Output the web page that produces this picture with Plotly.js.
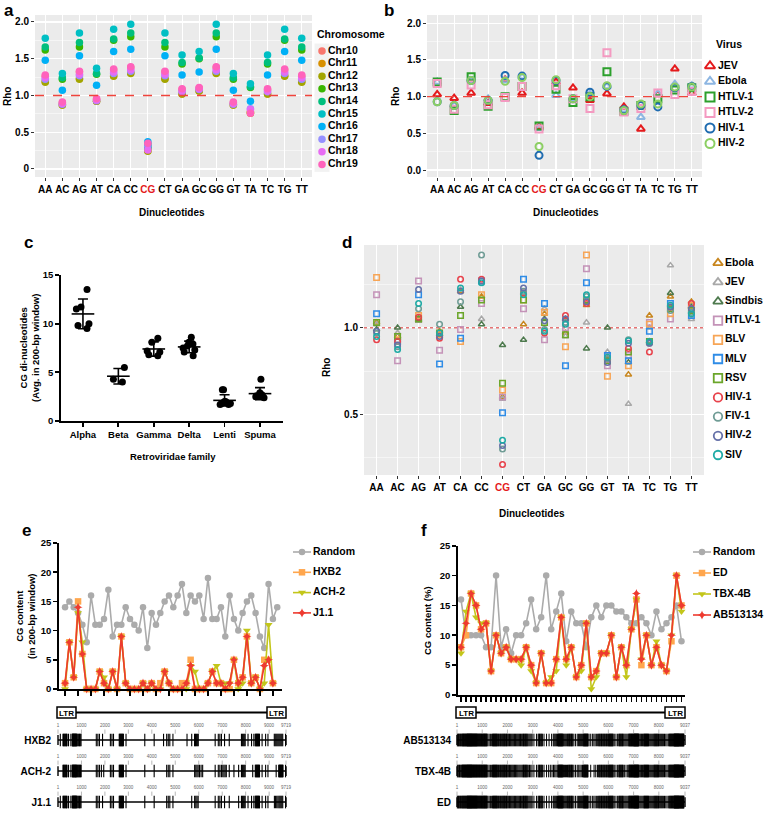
<!DOCTYPE html>
<html><head><meta charset="utf-8">
<script src="https://cdn.plot.ly/plotly-3.0.1.min.js"></script>
<style>html,body{margin:0;padding:0;background:#fff}#chart{width:784px;height:814px}</style>
</head><body><div id="chart"></div>
<script>
// ---------------- DATA ----------------
const dinucs = ['AA','AC','AG','AT','CA','CC','CG','CT','GA','GC','GG','GT','TA','TC','TG','TT'];

// Panel a : Rho per chromosome
const chromosomes = ['Chr10','Chr11','Chr12','Chr13','Chr14','Chr15','Chr16','Chr17','Chr18','Chr19'];
const chromColors = ['#F8766D','#D89000','#A3A500','#39B600','#00BF7D','#00BFC4','#00B0F6','#9590FF','#E76BF3','#FF62BC'];
const rhoChr10 = [1.26,0.90,1.32,0.95,1.35,1.38,0.34,1.32,1.08,1.10,1.38,0.90,0.78,1.08,1.35,1.26];
const rhoChr11 = [1.19,0.87,1.23,0.92,1.27,1.31,0.25,1.23,1.02,1.06,1.31,0.87,0.76,1.02,1.27,1.19];
const rhoChr12 = [1.18,0.87,1.22,0.92,1.26,1.30,0.24,1.22,1.02,1.06,1.30,0.87,0.77,1.02,1.26,1.18];
const rhoChr13 = [1.62,1.22,1.66,1.29,1.75,1.80,0.29,1.66,1.43,1.50,1.80,1.22,1.11,1.43,1.75,1.62];
const rhoChr14 = [1.66,1.24,1.72,1.30,1.77,1.85,0.30,1.72,1.45,1.51,1.85,1.24,1.12,1.45,1.77,1.66];
const rhoChr15 = [1.78,1.30,1.85,1.37,1.90,1.97,0.33,1.85,1.55,1.60,1.97,1.30,1.16,1.55,1.90,1.78];
const rhoChr16 = [1.48,1.07,1.54,1.14,1.60,1.63,0.37,1.54,1.28,1.32,1.63,1.07,0.92,1.28,1.60,1.48];
const rhoChr17 = [1.22,0.88,1.27,0.93,1.30,1.33,0.31,1.27,1.05,1.08,1.33,0.88,0.82,1.05,1.30,1.22];
const rhoChr18 = [1.24,0.89,1.29,0.94,1.32,1.35,0.26,1.29,1.06,1.09,1.35,0.89,0.81,1.06,1.32,1.24];
const rhoChr19 = [1.28,0.91,1.33,0.96,1.36,1.39,0.35,1.33,1.09,1.11,1.39,0.91,0.76,1.09,1.36,1.28];

// Panel b : Rho per virus
const virusB = ['JEV','Ebola','HTLV-1','HTLV-2','HIV-1','HIV-2'];
const virusBColors = ['#E41A1C','#8DB6E2','#2CA02C','#F49AC1','#1F6CB0','#8CCF63'];
const virusBSymbols = ['triangle-up-open','triangle-up-open','square-open','square-open','circle-open','circle-open'];
const rhoB_JEV   = [1.03,0.98,1.05,0.91,1.23,1.05,0.59,1.20,1.12,0.95,1.04,0.86,0.56,1.03,1.38,1.05];
const rhoB_Ebola = [1.20,0.88,1.22,0.97,1.22,1.27,0.57,1.02,0.97,1.03,1.14,0.82,0.72,1.04,1.17,1.15];
const rhoB_HTLV1 = [1.20,0.81,1.27,0.87,1.00,1.14,0.60,1.10,0.92,1.00,1.34,0.80,0.88,0.97,1.09,1.12];
const rhoB_HTLV2 = [1.18,0.83,1.16,0.89,0.99,1.14,0.56,1.15,0.97,0.84,1.60,0.79,0.84,1.05,1.03,1.07];
const rhoB_HIV1  = [0.93,0.88,1.22,0.95,1.29,1.28,0.20,1.22,0.97,1.06,1.14,0.82,0.88,0.86,1.12,1.14];
const rhoB_HIV2  = [0.93,0.88,1.22,0.95,1.21,1.26,0.32,1.23,0.97,1.00,1.15,0.81,0.90,0.90,1.13,1.13];

// Panel c : CG di-nucleotides per Retroviridae genus
const families = ['Alpha','Beta','Gamma','Delta','Lenti','Spuma'];
const cgAlpha = [13.5,11.7,11.5,10.0,9.5,9.8];
const cgBeta  = [5.5,4.0,4.3];
const cgGamma = [8.5,8.1,7.2,7.1,6.7,6.8];
const cgDelta = [8.6,8.1,7.9,7.7,7.5,7.3,7.1,6.7];
const cgLenti = [3.2,3.2,2.0,1.9,1.8,1.8,1.7,1.7,1.9,2.0];
const cgSpuma = [4.3,2.9,2.7,2.6,2.5,2.4,2.5,2.6];

// Panel d : Rho per virus
const virusD = ['Ebola','JEV','Sindbis','HTLV-1','BLV','MLV','RSV','HIV-1','FIV-1','HIV-2','SIV'];
const virusDColors = ['#C8861E','#A8A8A8','#4E7A4E','#C493B8','#F7A556','#2F8CE6','#6BA62A','#E8424B','#6F9C95','#6470A8','#1EAAA5'];
const virusDSymbols = ['triangle-up-open','triangle-up-open','triangle-up-open','square-open','square-open','square-open','square-open','circle-open','circle-open','circle-open','circle-open'];
const rhoD_Ebola   = [1.03,0.95,1.04,0.98,1.21,1.18,0.60,1.02,1.08,0.97,1.13,0.82,0.73,1.07,1.18,1.15];
const rhoD_JEV     = [1.02,0.97,1.04,0.95,1.22,1.05,0.59,1.20,1.11,0.95,1.03,0.86,0.56,1.00,1.36,1.05];
const rhoD_Sindbis = [0.99,1.00,1.05,0.96,1.12,1.02,0.90,0.93,1.05,1.05,0.88,1.00,0.80,0.92,1.20,1.12];
const rhoD_HTLV1   = [1.19,0.81,1.27,0.87,0.99,1.14,0.60,1.11,0.93,1.00,1.34,0.78,0.84,1.03,1.05,1.13];
const rhoD_BLV     = [1.29,0.93,1.07,0.96,0.92,1.19,0.64,1.16,1.09,0.89,1.42,0.72,0.78,1.02,1.08,1.13];
const rhoD_MLV     = [1.08,0.92,1.19,0.79,0.94,1.27,0.51,1.28,1.14,0.78,1.26,0.84,0.81,0.98,1.14,1.07];
const rhoD_RSV     = [1.03,0.95,1.05,0.97,1.07,1.16,0.68,1.16,1.03,0.96,1.16,0.81,0.86,0.92,1.11,1.10];
const rhoD_HIV1    = [0.93,0.92,1.06,0.94,1.28,1.28,0.21,1.20,0.97,1.07,1.14,0.82,0.88,0.86,1.12,1.14];
const rhoD_FIV1    = [0.97,0.89,1.11,1.02,1.15,1.42,0.30,1.21,0.99,1.03,1.18,0.82,0.93,0.91,1.10,1.09];
const rhoD_HIV2    = [0.98,0.90,1.22,0.95,1.21,1.27,0.32,1.23,1.04,1.05,1.15,0.80,0.91,0.91,1.12,1.11];
const rhoD_SIV     = [0.95,0.875,1.14,0.97,1.23,1.26,0.35,1.19,0.98,1.02,1.19,0.83,0.925,0.92,1.13,1.08];

// Panel e : CG content per 200-bp window
const seriesE = ['Random','HXB2','ACH-2','J1.1'];
const cgE_Random = [14,15,14,13,11,8,16,11,11,12,17,9,11,11,14,12,11,10,14,7,13,11,13,15,16,14,16,18,13,16,15,16,12,19,12,12,14,9,16,12,10,13,15,16,13,9,7,18,12,14];
const cgE_HXB2   = [1,8,2,15,6,0,0,0,3,1,0,3,0,9,1,0,0,0,1,0,1,0,1,3,1,0,0,1,1,5,0,0,0,1,3,1,1,0,0,5,1,2,9,1,2,0,5,5,1];
const cgE_ACH2   = [0,8,2,13,8,0,0,0,3,2,0,3,0,9,1,0,0,0,1,0,1,0,0,3,1,0,0,0,0,4,3,0,0,1,3,4,1,1,1,5,0,1,10,1,2,0,1,11,1];
const cgE_J11    = [1,8,2,14,6,0,0,0,3,1,0,3,0,9,1,0,0,0,1,0,1,0,0,3,1,0,0,0,1,4,0,0,0,1,3,1,1,0,1,5,1,2,9,1,2,0,4,5,1];
const eMapScale  = [1,1000,2000,3000,4000,5000,6000,7000,8000,9000,9719];

// Panel f : CG content (%)
const seriesF = ['Random','ED','TBX-4B','AB513134'];
const cgF_Random = [16,10,10,10,10,8,8,20,8,11,7,10,10,12,16,11,13,20,11,14,17,9,14,12,12,8,13,15,13,15,15,14,14,13,12,12,13,12,10,14,11,12,13,15,9];
const cgF_ED     = [8,10,17,15,11,12,4,10,7,8,6,6,6,8,5,2,7,2,2,6,13,6,8,3,5,12,3,4,7,7,10,3,8,5,11,16,5,10,5,8,5,4,9,20,15];
const cgF_TBX4B  = [7,14,17,13,12,12,4,10,7,8,6,6,5,8,4,2,7,2,3,4,13,5,8,3,4,12,1,3,7,7,10,3,8,3,11,16,6,10,5,9,5,4,10,20,14];
const cgF_AB     = [8,12,17,15,11,12,4,10,7,8,6,6,6,8,5,2,7,2,2,6,13,6,8,3,5,12,3,4,7,7,10,3,8,5,11,17,6,10,5,8,5,4,10,20,15];
const fMapScale  = [1,1000,2000,3000,4000,5000,6000,7000,8000,9037];
const windowBp = 200;

// ---------------- HELPERS ----------------
const W = 784, H = 814;
const FONT = 'Liberation Sans, Arial, Helvetica, sans-serif';
const bold = (s, c) => ({family: FONT, size: s, color: c || '#000', weight: 'bold'});
const xd = (a, b) => [a / W, b / W];
const yd = (top, bot) => [1 - bot / H, 1 - top / H];
const PX = x => x / W, PY = y => 1 - y / H;
const idx = arr => arr.map((_, i) => i);
const dinucText = dinucs.map(d => d === 'CG' ? '<span style="color:#E41A1C">CG</span>' : d);
const GG_XRANGE = [-0.6, 15.6];

const traces = [];
const shapes = [];
const annotations = [];

// ggplot-style gray panel + reference line at Rho = 1
function ggPanel(xa, ya) {
  shapes.push({type: 'rect', xref: xa + ' domain', yref: ya + ' domain', x0: 0, x1: 1, y0: 0, y1: 1,
    fillcolor: '#EBEBEB', line: {width: 0}, layer: 'below'});
}
function refLine(xa, ya, hline, dashStyle, hcol) {
  traces.push({type: 'scatter', mode: 'lines', xaxis: xa, yaxis: ya, x: GG_XRANGE, y: [hline, hline],
    line: {color: hcol, width: 1.3, dash: dashStyle}, hoverinfo: 'skip'});
}
function ggX(domain) {
  return {domain, range: GG_XRANGE, tickvals: idx(dinucs), ticktext: dinucText, tickfont: bold(10), tickangle: 0,
    ticks: 'outside', ticklen: 3, tickcolor: '#333', showgrid: true, gridcolor: '#fff', gridwidth: 1.1,
    zeroline: false, showline: false, fixedrange: true};
}
function ggY(domain, range, vals, texts, minors) {
  return {domain, range, tickvals: vals, ticktext: texts, tickfont: bold(10),
    ticks: 'outside', ticklen: 3, tickcolor: '#333', showgrid: true, gridcolor: '#fff', gridwidth: 1.1,
    minor: {tickvals: minors, showgrid: true, gridcolor: '#fff', gridwidth: 0.5, ticks: ''},
    zeroline: false, showline: false, fixedrange: true};
}
// manual legends on the full-page pixel axis (x9/y9)
function legendItems(names, colors, symbols, x0, y0, dy, size, lw, textX) {
  const ys = names.map((_, i) => y0 + i * dy);
  traces.push({type: 'scatter', mode: 'markers', xaxis: 'x9', yaxis: 'y9', x: names.map(() => x0), y: ys,
    marker: {symbol: symbols, color: colors, size: size, line: {color: colors, width: lw}}, hoverinfo: 'skip', cliponaxis: false});
  traces.push({type: 'scatter', mode: 'text', xaxis: 'x9', yaxis: 'y9', x: names.map(() => textX), y: ys,
    text: names, textposition: 'middle right', textfont: bold(10.5), hoverinfo: 'skip', cliponaxis: false});
}
function lineLegend(names, colors, symbols, sizes, x0, y0, dy, textX) {
  names.forEach((n, i) => {
    const y = y0 + i * dy;
    traces.push({type: 'scatter', mode: 'lines', xaxis: 'x9', yaxis: 'y9', x: [x0 - 9, x0 + 9], y: [y, y],
      line: {color: colors[i], width: 1.6}, hoverinfo: 'skip', cliponaxis: false});
    traces.push({type: 'scatter', mode: 'markers', xaxis: 'x9', yaxis: 'y9', x: [x0], y: [y],
      marker: {symbol: symbols[i], color: colors[i], size: sizes[i]}, hoverinfo: 'skip', cliponaxis: false});
  });
  traces.push({type: 'scatter', mode: 'text', xaxis: 'x9', yaxis: 'y9', x: names.map(() => textX),
    y: names.map((_, i) => y0 + i * dy), text: names, textposition: 'middle right', textfont: bold(10.5),
    hoverinfo: 'skip', cliponaxis: false});
}
function label(text, x, y, size, opts) {
  annotations.push(Object.assign({text, x: PX(x), y: PY(y), xref: 'paper', yref: 'paper', showarrow: false,
    font: bold(size), xanchor: 'center', yanchor: 'middle'}, opts || {}));
}

// ---------------- PANEL a ----------------
ggPanel('x', 'y');
const chrSeries = [rhoChr10, rhoChr11, rhoChr12, rhoChr13, rhoChr14, rhoChr15, rhoChr16, rhoChr17, rhoChr18, rhoChr19];
chrSeries.forEach((s, k) => traces.push({type: 'scatter', mode: 'markers', xaxis: 'x', yaxis: 'y', x: idx(dinucs), y: s,
  name: chromosomes[k], marker: {color: chromColors[k], size: 7.5}, cliponaxis: false}));
refLine('x', 'y', 1, 'dash', '#F0443C');

// ---------------- PANEL b ----------------
ggPanel('x2', 'y2');
const bSeries = [rhoB_JEV, rhoB_Ebola, rhoB_HTLV1, rhoB_HTLV2, rhoB_HIV1, rhoB_HIV2];
bSeries.forEach((s, k) => traces.push({type: 'scatter', mode: 'markers', xaxis: 'x2', yaxis: 'y2', x: idx(dinucs), y: s,
  name: virusB[k], marker: {symbol: virusBSymbols[k], color: virusBColors[k], size: 7, line: {color: virusBColors[k], width: 2}}, cliponaxis: false}));
refLine('x2', 'y2', 1, 'dash', '#F0443C');

// ---------------- PANEL c ----------------
const cSeries = [cgAlpha, cgBeta, cgGamma, cgDelta, cgLenti, cgSpuma];
const cMeans = cSeries.map(a => a.reduce((s, v) => s + v, 0) / a.length);
const cSDs = cSeries.map((a, i) => Math.sqrt(a.reduce((s, v) => s + (v - cMeans[i]) ** 2, 0) / (a.length - 1)));
cSeries.forEach((s, k) => traces.push({type: 'box', xaxis: 'x3', yaxis: 'y3', x0: k, y: s, name: families[k],
  boxpoints: 'all', jitter: 0.8, pointpos: 0, width: 0.55, marker: {color: '#000', size: 7},
  line: {color: 'rgba(0,0,0,0)', width: 0}, fillcolor: 'rgba(0,0,0,0)', hoverinfo: 'skip'}));
const meanX = [], meanY = [];
cMeans.forEach((m, k) => { meanX.push(k - 0.32, k + 0.32, null); meanY.push(m, m, null); });
traces.push({type: 'scatter', mode: 'lines', xaxis: 'x3', yaxis: 'y3', x: meanX, y: meanY, line: {color: '#000', width: 1.6}, hoverinfo: 'skip'});
traces.push({type: 'scatter', mode: 'markers', xaxis: 'x3', yaxis: 'y3', x: idx(families), y: cMeans,
  marker: {size: 1, color: 'rgba(0,0,0,0)'}, error_y: {type: 'data', array: cSDs, visible: true, color: '#000', thickness: 1.6, width: 5}, hoverinfo: 'skip'});

// ---------------- PANEL d ----------------
ggPanel('x4', 'y4');
refLine('x4', 'y4', 1, 'dot', '#E57373');
const dSeries = [rhoD_Ebola, rhoD_JEV, rhoD_Sindbis, rhoD_HTLV1, rhoD_BLV, rhoD_MLV, rhoD_RSV, rhoD_HIV1, rhoD_FIV1, rhoD_HIV2, rhoD_SIV];
dSeries.forEach((s, k) => traces.push({type: 'scatter', mode: 'markers', xaxis: 'x4', yaxis: 'y4', x: idx(dinucs), y: s,
  name: virusD[k], marker: {symbol: virusDSymbols[k], color: virusDColors[k], size: 5.5, line: {color: virusDColors[k], width: 1.5}}, cliponaxis: false}));

// ---------------- PANEL e ----------------
const lineColorsE = ['#ABABAB', '#FFA64D', '#C3C61A', '#EE3A2F'];
const symbolsE = ['circle', 'square', 'triangle-down', 'star-diamond'];
const sizesE = [6.5, 6.5, 7, 6.5];
[cgE_Random, cgE_HXB2, cgE_ACH2, cgE_J11].forEach((s, k) => traces.push({type: 'scatter', mode: 'lines+markers',
  xaxis: 'x5', yaxis: 'y5', x: idx(s), y: s, name: seriesE[k], line: {color: lineColorsE[k], width: 1.6},
  marker: {symbol: symbolsE[k], color: lineColorsE[k], size: sizesE[k]}, cliponaxis: false}));

// ---------------- PANEL f ----------------
const lineColorsF = ['#ABABAB', '#FFA64D', '#C3C61A', '#EE3A2F'];
[cgF_Random, cgF_ED, cgF_TBX4B, cgF_AB].forEach((s, k) => traces.push({type: 'scatter', mode: 'lines+markers',
  xaxis: 'x6', yaxis: 'y6', x: idx(s), y: s, name: seriesF[k], line: {color: lineColorsF[k], width: 1.6},
  marker: {symbol: symbolsE[k], color: lineColorsF[k], size: sizesE[k]}, cliponaxis: false}));

// ---------------- CpG maps (derived from per-window counts) ----------------
function cpgPositions(counts) {
  const xs = [];
  counts.forEach((n, i) => { for (let k = 0; k < n; k++) xs.push(i * windowBp + (k + 0.5) * windowBp / n); });
  return xs;
}
function drawMaps(xa, ya, rowsCounts, scale, markW) {
  const len = scale[scale.length - 1];
  rowsCounts.forEach((counts, r) => {
    traces.push({type: 'scatter', mode: 'lines', xaxis: xa, yaxis: ya, x: [1, len], y: [r, r], line: {color: '#000', width: 1.6}, hoverinfo: 'skip', cliponaxis: false});
    traces.push({type: 'scatter', mode: 'markers', xaxis: xa, yaxis: ya, x: [1, len], y: [r, r],
      marker: {symbol: 'line-ns', size: 7, line: {color: '#000', width: 1.4}}, hoverinfo: 'skip', cliponaxis: false});
    const pos = cpgPositions(counts).filter(p => p <= len);
    traces.push({type: 'scatter', mode: 'markers', xaxis: xa, yaxis: ya, x: pos, y: pos.map(() => r),
      marker: {symbol: 'line-ns', size: 9, line: {color: '#000', width: markW}}, hoverinfo: 'skip', cliponaxis: false});
    traces.push({type: 'scatter', mode: 'markers', xaxis: xa, yaxis: ya, x: scale, y: scale.map(() => r - 0.27),
      marker: {symbol: 'line-ns', size: 3, line: {color: '#888', width: 0.6}}, hoverinfo: 'skip', cliponaxis: false});
    traces.push({type: 'scatter', mode: 'text', xaxis: xa, yaxis: ya, x: scale, y: scale.map(() => r - 0.45),
      text: scale.map(String), textfont: {family: FONT, size: 4.5, color: '#666'}, hoverinfo: 'skip', cliponaxis: false});
  });
}
drawMaps('x7', 'y7', [cgE_HXB2, cgE_ACH2, cgE_J11], eMapScale, 1.1);
drawMaps('x8', 'y8', [cgF_AB, cgF_TBX4B, cgF_ED], fMapScale, 1.0);

// LTR schematics
function ltr(x0, x1, xr0, xr1, ytop, ybot) {
  const ym = (ytop + ybot) / 2;
  shapes.push({type: 'line', xref: 'paper', yref: 'paper', x0: PX(x1), x1: PX(xr0), y0: PY(ym), y1: PY(ym), line: {color: '#000', width: 2}});
  [[x0, x1], [xr0, xr1]].forEach(([a, b]) => {
    shapes.push({type: 'rect', xref: 'paper', yref: 'paper', x0: PX(a), x1: PX(b), y0: PY(ybot), y1: PY(ytop),
      line: {color: '#000', width: 1.5}, fillcolor: '#fff'});
    label('LTR', (a + b) / 2, ym + 0.5, 8);
  });
}
ltr(57, 76, 267, 286, 707, 718);
ltr(456, 476, 665, 685, 707, 718);

// ---------------- LEGENDS ----------------
traces.push({type: 'scatter', mode: 'markers', xaxis: 'x9', yaxis: 'y9', x: chromosomes.map(() => 322),
  y: chromosomes.map((_, i) => 51 + i * 12.6), marker: {symbol: 'square', color: '#F2F2F2', size: 15}, hoverinfo: 'skip'});
legendItems(chromosomes, chromColors, chromosomes.map(() => 'circle'), 322, 51, 12.6, 7.5, 0, 328);
label('Chromosome', 315, 34, 10.5, {xanchor: 'left'});
legendItems(virusB, virusBColors, virusBSymbols, 710, 66, 15.5, 9, 2, 718);
label('Virus', 714, 44, 10.5, {xanchor: 'left'});
legendItems(virusD, virusDColors, virusDSymbols, 718, 263, 19.2, 8.5, 1.8, 725);
lineLegend(seriesE, lineColorsE, symbolsE, sizesE, 302, 552, 20.3, 313);
lineLegend(seriesF, lineColorsF, symbolsE, sizesE, 702, 552, 21, 713);

// ---------------- TEXT ----------------
label('a', 9, 11, 17); label('b', 389, 11, 17); label('c', 28, 242, 17);
label('d', 347, 242, 17); label('e', 26, 530, 17); label('f', 424, 530, 17);
label('Rho', 8, 96, 10, {textangle: -90});
label('Dinucleotides', 172, 212, 10);
label('Rho', 395, 97, 10, {textangle: -90});
label('Dinucleotides', 566, 212, 10);
label('CG di-nucleotides<br>(Avg. in 200-bp window)', 29, 348, 9.5, {textangle: -90});
label('Retroviridae family', 173, 456, 9.5);
label('Rho', 327, 368, 10, {textangle: -90});
label('Dinucleotides', 532, 513, 10);
label('CG content<br>(in 200-bp window)', 25, 616, 9.5, {textangle: -90});
label('CG content (%)', 427, 620, 9.5, {textangle: -90});

// ---------------- LAYOUT ----------------
const blackAxis = {showline: true, linecolor: '#000', linewidth: 1.8, ticks: 'outside', tickcolor: '#000', tickwidth: 1.8,
  ticklen: 4, showgrid: false, zeroline: false, tickfont: bold(9.5), fixedrange: true, tickangle: 0};
const layout = {
  width: W, height: H, margin: {l: 0, r: 0, t: 0, b: 0}, paper_bgcolor: '#fff', plot_bgcolor: 'rgba(0,0,0,0)',
  showlegend: false, font: {family: FONT, size: 10, color: '#000'},
  xaxis: Object.assign(ggX(xd(35, 312)), {anchor: 'y'}),
  yaxis: Object.assign(ggY(yd(15, 177), [-0.109, 2.095], [0, 0.5, 1, 1.5, 2], ['0', '0.5', '1.0', '1.5', '2.0'], [0.25, 0.75, 1.25, 1.75]), {anchor: 'x'}),
  xaxis2: Object.assign(ggX(xd(427, 702)), {anchor: 'y2'}),
  yaxis2: Object.assign(ggY(yd(15, 177), [-0.095, 2.113], [0, 0.5, 1, 1.5, 2], ['0.0', '0.5', '1.0', '1.5', '2.0'], [0.25, 0.75, 1.25, 1.75]), {anchor: 'x2'}),
  xaxis3: Object.assign({}, blackAxis, {domain: xd(61, 283), range: [-0.62, 5.65], tickvals: idx(families), ticktext: families, anchor: 'y3'}),
  yaxis3: Object.assign({}, blackAxis, {domain: yd(275, 421), range: [0, 15], tickvals: [0, 5, 10, 15], anchor: 'x3'}),
  xaxis4: Object.assign(ggX(xd(364, 704)), {anchor: 'y4'}),
  yaxis4: Object.assign(ggY(yd(245, 475), [0.15, 1.4775], [0.5, 1], ['0.5', '1.0'], [0.25, 0.75, 1.25]), {anchor: 'x4'}),
  xaxis5: Object.assign({}, blackAxis, {domain: xd(59, 282), range: [-1.4, 50.1], tickvals: idx(cgE_Random).filter(i => i % 3 === 0), showticklabels: false, ticklen: 5, anchor: 'y5'}),
  yaxis5: Object.assign({}, blackAxis, {domain: yd(543, 689), range: [0, 25], tickvals: [0, 5, 10, 15, 20, 25], anchor: 'x5'}),
  xaxis6: Object.assign({}, blackAxis, {domain: xd(458, 685), range: [-0.6, 44.7], tickvals: idx(cgF_Random), showticklabels: false, ticklen: 5, tickwidth: 1.5, anchor: 'y6'}),
  yaxis6: Object.assign({}, blackAxis, {domain: yd(545.7, 695), range: [0, 25], tickvals: [0, 5, 10, 15, 20, 25], anchor: 'x6'}),
  xaxis7: {domain: xd(58, 286), range: [1, eMapScale[eMapScale.length - 1]], visible: false, fixedrange: true, anchor: 'y7'},
  yaxis7: {domain: yd(720, 812), range: [2.32, -0.645], tickvals: [0, 1, 2], ticktext: ['HXB2', 'ACH-2', 'J1.1'], tickfont: bold(10),
    showgrid: false, zeroline: false, showline: false, ticks: '', ticklabelstandoff: 6, fixedrange: true, anchor: 'x7'},
  xaxis8: {domain: xd(457, 685), range: [1, fMapScale[fMapScale.length - 1]], visible: false, fixedrange: true, anchor: 'y8'},
  yaxis8: {domain: yd(720, 812), range: [2.32, -0.645], tickvals: [0, 1, 2], ticktext: ['AB513134', 'TBX-4B', 'ED'], tickfont: bold(10),
    showgrid: false, zeroline: false, showline: false, ticks: '', ticklabelstandoff: 5, fixedrange: true, anchor: 'x8'},
  xaxis9: {domain: [0, 1], range: [0, W], visible: false, fixedrange: true, anchor: 'y9'},
  yaxis9: {domain: [0, 1], range: [H, 0], visible: false, fixedrange: true, anchor: 'x9'},
  shapes, annotations
};
Plotly.newPlot('chart', traces, layout, {staticPlot: true, displayModeBar: false});
</script></body></html>
